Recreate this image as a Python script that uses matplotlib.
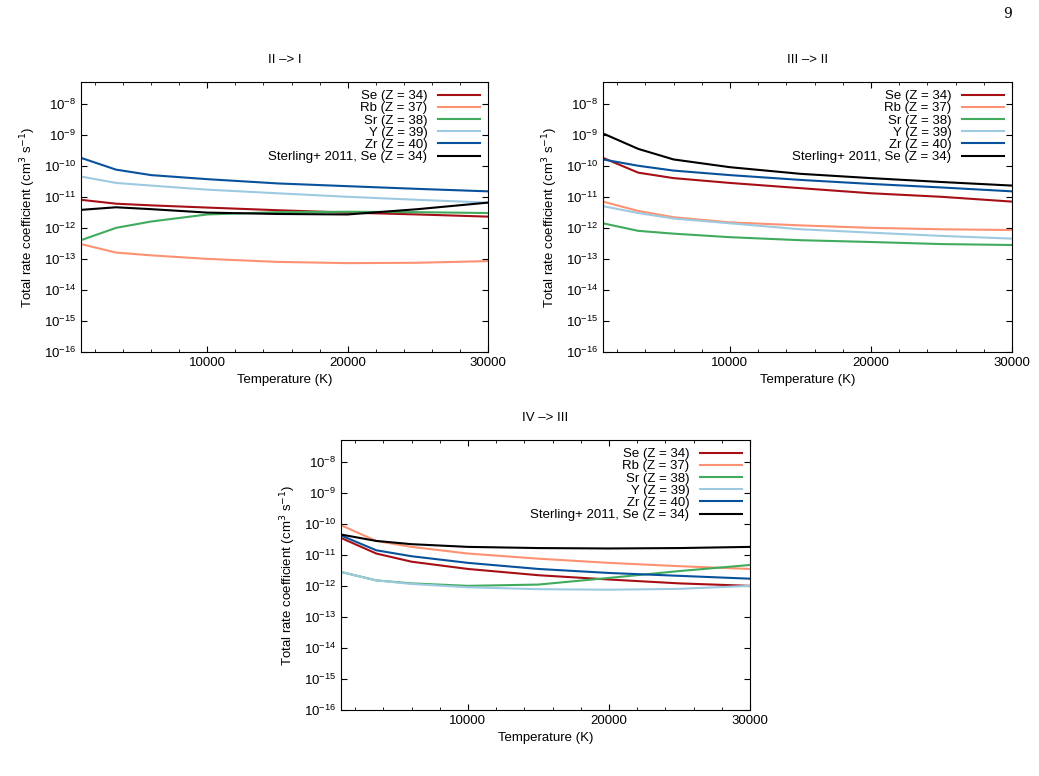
import matplotlib
matplotlib.use("Agg")
import matplotlib.pyplot as plt
from matplotlib.ticker import MultipleLocator, LogLocator, NullLocator

T = [1000, 3500, 6000, 10000, 15000, 20000, 25000, 30000]
labels = ["Se (Z = 34)", "Rb (Z = 37)", "Sr (Z = 38)", "Y (Z = 39)", "Zr (Z = 40)", "Sterling+ 2011, Se (Z = 34)"]
colors = ["#a50f15", "#fc9272", "#41ab5d", "#9ecae1", "#08519c", "#000000"]
titles = ["II \u2013> I", "III \u2013> II", "IV \u2013> III"]

p1_se = [8e-12, 6e-12, 5.3e-12, 4.5e-12, 3.7e-12, 3.1e-12, 2.7e-12, 2.3e-12]
p1_rb = [3e-13, 1.6e-13, 1.3e-13, 1e-13, 8e-14, 7.3e-14, 7.5e-14, 8.5e-14]
p1_sr = [4e-13, 1e-12, 1.6e-12, 2.7e-12, 3.2e-12, 3.3e-12, 3.2e-12, 3e-12]
p1_y = [4.5e-11, 2.8e-11, 2.3e-11, 1.7e-11, 1.3e-11, 1e-11, 8e-12, 6.5e-12]
p1_zr = [1.8e-10, 7.5e-11, 5e-11, 3.7e-11, 2.7e-11, 2.2e-11, 1.8e-11, 1.5e-11]
p1_st = [3.8e-12, 4.6e-12, 4e-12, 3.1e-12, 2.8e-12, 2.7e-12, 4e-12, 6.5e-12]

p2_se = [1.8e-10, 6e-11, 4e-11, 2.8e-11, 1.9e-11, 1.3e-11, 1e-11, 7e-12]
p2_rb = [7e-12, 3.5e-12, 2.2e-12, 1.5e-12, 1.2e-12, 1e-12, 9e-13, 8.5e-13]
p2_sr = [1.4e-12, 8e-13, 6.5e-13, 5e-13, 4e-13, 3.5e-13, 3e-13, 2.8e-13]
p2_y = [5e-12, 3e-12, 2e-12, 1.4e-12, 9e-13, 7e-13, 5.5e-13, 4.5e-13]
p2_zr = [1.6e-10, 1e-10, 7e-11, 5e-11, 3.5e-11, 2.6e-11, 2e-11, 1.5e-11]
p2_st = [1.1e-09, 3.5e-10, 1.6e-10, 9e-11, 5.5e-11, 4e-11, 3e-11, 2.3e-11]

p3_se = [3.5e-11, 1.1e-11, 6e-12, 3.5e-12, 2.2e-12, 1.6e-12, 1.2e-12, 1e-12]
p3_rb = [9e-11, 2.8e-11, 1.8e-11, 1.1e-11, 7.5e-12, 5.5e-12, 4.3e-12, 3.5e-12]
p3_sr = [2.8e-12, 1.5e-12, 1.2e-12, 1e-12, 1.1e-12, 1.8e-12, 3e-12, 4.7e-12]
p3_y = [2.8e-12, 1.5e-12, 1.15e-12, 9e-13, 7.8e-13, 7.5e-13, 8e-13, 1e-12]
p3_zr = [4.2e-11, 1.4e-11, 9e-12, 5.5e-12, 3.5e-12, 2.6e-12, 2.1e-12, 1.7e-12]
p3_st = [4.5e-11, 2.8e-11, 2.2e-11, 1.8e-11, 1.65e-11, 1.6e-11, 1.65e-11, 1.8e-11]

panels = [
    [p1_se, p1_rb, p1_sr, p1_y, p1_zr, p1_st],
    [p2_se, p2_rb, p2_sr, p2_y, p2_zr, p2_st],
    [p3_se, p3_rb, p3_sr, p3_y, p3_zr, p3_st],
]

W, H = 1039, 776
fig = plt.figure(figsize=(W / 100, H / 100), dpi=100)
plt.rcParams['font.family'] = ['Liberation Sans', 'DejaVu Sans']
boxes = [(81, 82, 488, 352), (603, 82, 1012, 352), (341, 440, 750, 710)]
fs = 9.5

for (x0, y0, x1, y1), series, title in zip(boxes, panels, titles):
    ax = fig.add_axes([x0 / W, 1 - y1 / H, (x1 - x0) / W, (y1 - y0) / H])
    for s, lab, c in zip(series, labels, colors):
        ax.plot(T, s, color=c, lw=1.5, label=lab)
    ax.set_yscale('log')
    ax.set_xlim(1000, 30000)
    ax.set_ylim(1e-16, 5e-8)
    ax.set_xticks([10000, 20000, 30000])
    ax.xaxis.set_minor_locator(MultipleLocator(2000))
    ax.yaxis.set_major_locator(LogLocator(base=10, numticks=20))
    ax.yaxis.set_minor_locator(NullLocator())
    ax.tick_params(direction='in', top=True, right=True, which='both', labelsize=fs)
    ax.tick_params(which='major', length=4)
    ax.tick_params(which='minor', length=2)
    ax.set_xlabel("Temperature (K)", fontsize=fs)
    ax.set_ylabel("Total rate coefficient (cm$^3$ s$^{-1}$)", fontsize=fs)
    ax.set_title(title, fontsize=fs, pad=14)
    ax.legend(loc='upper right', frameon=False, markerfirst=False, fontsize=fs,
              handlelength=3.2, labelspacing=0.0, borderaxespad=0.2, handletextpad=0.8)

fig.text(1012 / W, 1 - 14 / H, "9", fontsize=10, ha='right', va='center', family='DejaVu Serif')
fig.savefig("out.png", dpi=100)
